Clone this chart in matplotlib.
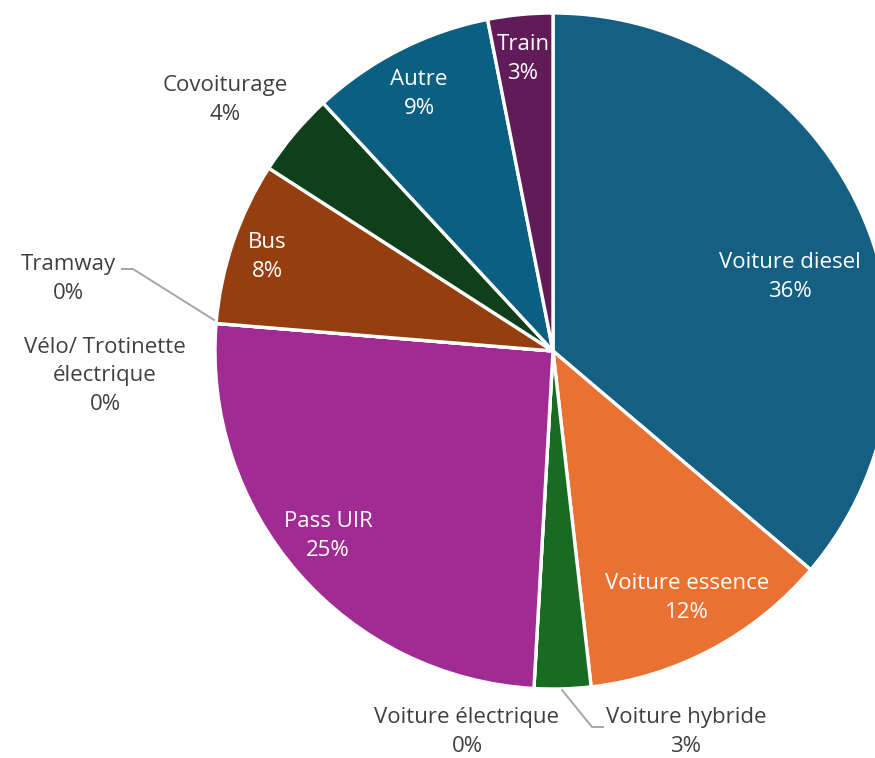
import matplotlib
matplotlib.use("Agg")
import matplotlib.pyplot as plt
import numpy as np

labels = ["Voiture diesel", "Voiture essence", "Voiture hybride", "Voiture électrique",
          "Pass UIR", "Vélo/ Trotinette\nélectrique", "Tramway", "Bus", "Covoiturage",
          "Autre", "Train"]
shares = [36.2, 12.0, 2.7, 0.0, 25.4, 0.0, 0.0, 7.8, 4.0, 8.8, 3.1]
colors = ["#156082", "#E97132", "#196B24", "#0F9ED5", "#A02B93", "#4EA72E",
          "#0D3A4E", "#953F11", "#10401A", "#0B5F80", "#601B58"]

W, H = 875, 758
fig = plt.figure(figsize=(W / 100, H / 100), dpi=100)
ax = fig.add_axes([0, 0, 1, 1])

cx, cy, r = 553, H - 351, 338
ax.pie(shares, colors=colors, startangle=90, counterclock=False,
       center=(cx, cy), radius=r, frame=True,
       wedgeprops=dict(edgecolor="white", linewidth=2.4))
ax.set_xlim(0, W)
ax.set_ylim(0, H)
ax.set_aspect("equal")
ax.axis("off")

total = sum(shares)
pct = [f"{round(c / total * 100):.0f}%" for c in shares]

font = "Open Sans"
fs = 16
pos = {
    0: (790, 277, "white"),
    1: (687, 598, "white"),
    2: (686, 732, "#404040"),
    3: (467, 732, "#404040"),
    4: (328, 536, "white"),
    5: (105, 376, "#404040"),
    6: (68, 279, "#404040"),
    7: (267, 257, "white"),
    8: (225, 100, "#404040"),
    9: (419, 94, "white"),
    10: (523, 59, "white"),
}
for i, (x, y, c) in pos.items():
    ax.text(x, H - y, f"{labels[i]}\n{pct[i]}", ha="center", va="center",
            color=c, fontsize=fs, family=font, linespacing=1.46)

lc = "#A6A6A6"
ax.plot([122, 133, 214], [H - 269, H - 269, H - 320], color=lc, lw=1.4)
ax.plot([562, 592, 603], [H - 690, H - 727, H - 727], color=lc, lw=1.4)

fig.savefig("out.png", dpi=100)
